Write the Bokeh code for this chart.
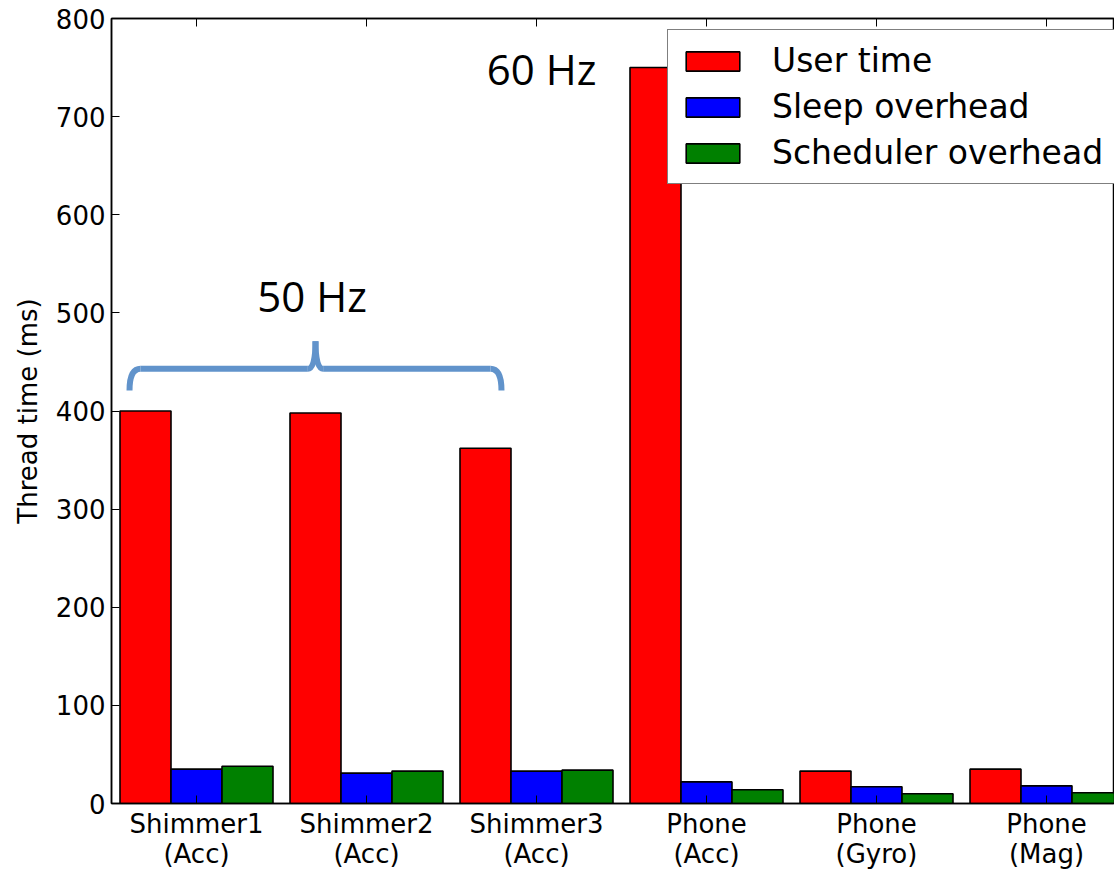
import numpy as np
from bokeh.plotting import figure
from bokeh.models import (Range1d, FixedTicker, LinearAxis, Legend, LegendItem,
                          Label)
from bokeh.embed import file_html
from bokeh.resources import INLINE

categories = ["Shimmer1\n(Acc)", "Shimmer2\n(Acc)", "Shimmer3\n(Acc)",
              "Phone\n(Acc)", "Phone\n(Gyro)", "Phone\n(Mag)"]
user_time = [400, 398, 362, 750, 33, 35]
sleep_overhead = [35, 31, 33, 22, 17, 18]
scheduler_overhead = [38, 33, 34, 14, 10, 11]
y_ticks = [0, 100, 200, 300, 400, 500, 600, 700, 800]

series = [("User time", user_time, "#ff0000"),
          ("Sleep overhead", sleep_overhead, "#0000ff"),
          ("Scheduler overhead", scheduler_overhead, "#008000")]

FONT = "DejaVu Sans"
idx = np.arange(len(categories))
bar_w = 0.3

p = figure(width=1114, height=871, output_backend="svg", toolbar_location=None,
           x_range=Range1d(-0.5, -0.5 + 1003 / 170.0), y_range=Range1d(0, 800),
           min_border_left=111, min_border_right=0, min_border_top=18,
           min_border_bottom=66)
p.xgrid.visible = False
p.ygrid.visible = False
p.outline_line_color = "black"
p.outline_line_width = 1.5
p.background_fill_color = "white"
p.border_fill_color = "white"

renderers = []
for k, (name, vals, col) in enumerate(series):
    r = p.vbar(x=idx + (k - 1) * bar_w, top=vals, width=bar_w, bottom=0,
               fill_color=col, line_color="black", line_width=1.6)
    renderers.append((name, r))

# axes
for ax in [p.xaxis[0], p.yaxis[0]]:
    ax.major_tick_in = 8
    ax.major_tick_out = 0
    ax.minor_tick_line_color = None
    ax.axis_line_color = "black"
    ax.axis_line_width = 1.5
    ax.major_tick_line_color = "black"
    ax.major_label_text_font = FONT
    ax.major_label_text_font_size = "26px"
    ax.major_label_text_color = "black"

p.xaxis.ticker = FixedTicker(ticks=list(idx))
p.xaxis.major_label_overrides = {int(i): c for i, c in zip(idx, categories)}
p.xaxis.major_label_standoff = 5
p.xaxis.major_label_text_line_height = 1.0
p.yaxis.ticker = FixedTicker(ticks=y_ticks)
p.yaxis.major_label_standoff = 6
p.yaxis.axis_label = "Thread time (ms)"
p.yaxis.axis_label_text_font = FONT
p.yaxis.axis_label_text_font_size = "26px"
p.yaxis.axis_label_text_font_style = "normal"
p.yaxis.axis_label_text_color = "black"
p.yaxis.axis_label_standoff = 10

top_ax = LinearAxis(ticker=FixedTicker(ticks=list(idx)), major_label_text_font_size="0px",
                    major_tick_in=8, major_tick_out=0, minor_tick_line_color=None,
                    axis_line_color="black", axis_line_width=1.5,
                    major_label_standoff=0)
top_ax.major_label_overrides = {int(i): "" for i in idx}
p.add_layout(top_ax, "above")

# brace spanning the 50 Hz group
bx0 = idx[0] - 1.5 * bar_w + 0.056
bx1 = idx[2] - 0.5 * bar_w - 0.056
bmid = (bx0 + bx1) / 2
by_end, by_mid, by_tip = 421, 443, 471
dx = 0.065
brace_col = "#6193cb"
p.quadratic(x0=[bx0, bx1], y0=[by_end, by_end], x1=[bx0 + dx, bx1 - dx], y1=[by_mid, by_mid],
            cx=[bx0, bx1], cy=[by_mid, by_mid], line_color=brace_col, line_width=6)
p.segment(x0=[bx0 + dx, bmid + 0.045], y0=[by_mid, by_mid], x1=[bmid - 0.045, bx1 - dx],
          y1=[by_mid, by_mid], line_color=brace_col, line_width=6)
p.quadratic(x0=[bmid - 0.045, bmid + 0.045], y0=[by_mid, by_mid], x1=[bmid, bmid],
            y1=[by_tip, by_tip], cx=[bmid, bmid], cy=[by_mid, by_mid],
            line_color=brace_col, line_width=6)

p.add_layout(Label(x=bmid - 0.02, y=518, text="50 Hz", text_font="Open Sans",
                   text_font_size="42px", text_align="center", text_baseline="alphabetic",
                   text_color="black"))
p.add_layout(Label(x=idx[3] - 0.97, y=749, text="60 Hz", text_font="Open Sans",
                   text_font_size="42px", text_align="center", text_baseline="alphabetic",
                   text_color="black"))

legend = Legend(items=[LegendItem(label=n, renderers=[r]) for n, r in renderers],
                location=(556, 619), orientation="vertical",
                label_text_font=FONT, label_text_font_size="33px", label_text_color="black",
                label_text_line_height=1.0,
                glyph_width=67, glyph_height=24, label_height=24,
                label_standoff=26, spacing=7, padding=11, margin=0,
                border_line_color="black", border_line_width=1.5,
                background_fill_alpha=1.0)
p.add_layout(legend, "center")

open("out.html", "w").write(file_html(p, INLINE))
